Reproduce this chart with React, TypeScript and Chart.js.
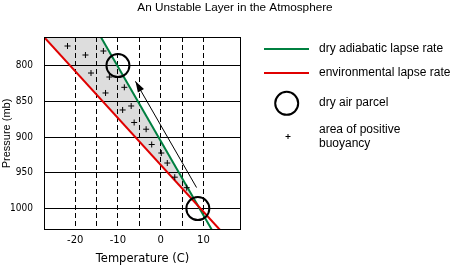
import { useEffect, useRef } from "react";
import { Chart, registerables } from "chart.js";

Chart.register(...registerables);

// ---- data ----
const temperatureGridTicks = [-20, -15, -10, -5, 0, 5, 10];
const temperatureLabelTicks = [-20, -10, 0, 10];
const pressureTicks = [800, 850, 900, 950, 1000];

const dryAdiabaticTemp = [-14, 12];
const dryAdiabaticPressure = [760, 1030];
const environmentalTemp = [-27.3, 13.9];
const environmentalPressure = [760, 1030];

const parcelTemp = [-10, 8.7];
const parcelPressure = [800, 1000];

const buoyancyTemp = [-21.8, -17.6, -13.4, -16.3, -12.0, -8.5, -12.9, -6.9, -8.9, -6.2, -3.4, -2.1, 0.15, 1.55, 3.3, 6.1];
const buoyancyPressure = [772.6, 785.2, 779.6, 810.4, 816, 830.4, 838.3, 856.5, 862.1, 879.6, 889, 910.4, 922.3, 936.3, 956.1, 970.8];

const parcelPathTemp = [8.4, -5.9];
const parcelPathPressure = [970.6, 822];

const TITLE = "An Unstable Layer in the Atmosphere";
const X_TITLE = "Temperature (C)";
const Y_TITLE = "Pressure (mb)";

const GREEN = "#008040";
const RED = "#e00000";
const GRAY = "#dddddd";
const SANS = '"Liberation Sans", Arial, sans-serif';

const toPoints = (xs: number[], ys: number[]) => xs.map((x, i) => ({ x, y: ys[i] }));

// where the dry adiabat meets the environmental profile
function crossing() {
  const dT = dryAdiabaticTemp, dP = dryAdiabaticPressure;
  const eT = environmentalTemp, eP = environmentalPressure;
  const ds = (dT[1] - dT[0]) / (dP[1] - dP[0]);
  const es = (eT[1] - eT[0]) / (eP[1] - eP[0]);
  const p = (eT[0] - es * eP[0] - dT[0] + ds * dP[0]) / (ds - es);
  return { x: dT[0] + ds * (p - dP[0]), y: p };
}

const framePlugin = {
  id: "frame",
  afterDatasetsDraw(chart: any) {
    const { ctx, chartArea: a } = chart;
    ctx.save();
    ctx.strokeStyle = "#000";
    ctx.lineWidth = 1;
    ctx.strokeRect(Math.round(a.left) + 0.5, Math.round(a.top) + 0.5, Math.round(a.right - a.left) - 1, Math.round(a.bottom - a.top) - 1);
    ctx.restore();
  },
};

const arrowPlugin = {
  id: "arrowHead",
  afterDatasetsDraw(chart: any) {
    const idx = chart.data.datasets.findIndex((d: any) => d.label === "parcel path");
    if (idx < 0) return;
    const pts = chart.getDatasetMeta(idx).data;
    if (pts.length < 2) return;
    const a = pts[pts.length - 2];
    const b = pts[pts.length - 1];
    const ang = Math.atan2(b.y - a.y, b.x - a.x);
    const len = 11;
    const hw = 3.5;
    const c = Math.cos(ang);
    const s = Math.sin(ang);
    const { ctx } = chart;
    ctx.save();
    ctx.fillStyle = "#000";
    ctx.beginPath();
    ctx.moveTo(b.x, b.y);
    ctx.lineTo(b.x - len * c + hw * s, b.y - len * s - hw * c);
    ctx.lineTo(b.x - len * c - hw * s, b.y - len * s + hw * c);
    ctx.closePath();
    ctx.fill();
    ctx.restore();
  },
};

const legendPlugin = {
  id: "customLegend",
  afterDraw(chart: any) {
    const { ctx, chartArea } = chart;
    const ds = chart.data.datasets;
    const find = (l: string) => ds.find((d: any) => d.label === l);
    const dry = find("dry adiabatic lapse rate");
    const env = find("environmental lapse rate");
    const x0 = Math.round(chartArea.right) + 23;
    const tx = Math.round(chartArea.right) + 78;
    const top = Math.round(chartArea.top);
    ctx.save();
    ctx.font = `12px ${SANS}`;
    ctx.fillStyle = "#000";
    ctx.textBaseline = "middle";
    ctx.textAlign = "left";

    ctx.fillStyle = dry.borderColor;
    ctx.fillRect(x0, top + 11, 45, 2);
    ctx.fillStyle = "#000";
    ctx.fillText(dry.label, tx, top + 12);

    ctx.fillStyle = env.borderColor;
    ctx.fillRect(x0, top + 35, 45, 2);
    ctx.fillStyle = "#000";
    ctx.fillText(env.label, tx, top + 36);

    ctx.strokeStyle = "#000";
    ctx.lineWidth = 2;
    ctx.beginPath();
    ctx.arc(x0 + 22.7, top + 66.3, 11.5, 0, Math.PI * 2);
    ctx.stroke();
    ctx.fillText("dry air parcel", tx, top + 66);

    ctx.lineWidth = 1;
    const px = x0 + 23.5;
    const py = top + 99.5;
    ctx.beginPath();
    ctx.moveTo(px - 2, py);
    ctx.lineTo(px + 3, py);
    ctx.moveTo(px + 0.5, py - 2.5);
    ctx.lineTo(px + 0.5, py + 2.5);
    ctx.stroke();
    ctx.fillText("area of positive", tx, top + 93);
    ctx.fillText("buoyancy", tx, top + 107);
    ctx.restore();
  },
};

export default function App() {
  const ref = useRef<HTMLCanvasElement | null>(null);

  useEffect(() => {
    if (!ref.current) return;
    const cross = crossing();
    const shade = [
      { x: environmentalTemp[0], y: environmentalPressure[0] },
      { x: dryAdiabaticTemp[0], y: dryAdiabaticPressure[0] },
      cross,
    ];
    const chart = new Chart(ref.current, {
      type: "line",
      data: {
        datasets: [
          {
            label: "dry air parcel",
            data: toPoints(parcelTemp, parcelPressure),
            showLine: false,
            pointStyle: "circle",
            pointRadius: 11.5,
            pointHoverRadius: 11.5,
            pointBorderWidth: 2,
            pointBorderColor: "#000",
            pointBackgroundColor: "rgba(0,0,0,0)",
            borderColor: "#000",
          },
          {
            label: "area of positive buoyancy",
            data: toPoints(buoyancyTemp, buoyancyPressure),
            showLine: false,
            pointStyle: "cross",
            pointRadius: 3,
            pointHoverRadius: 3,
            pointBorderWidth: 1,
            pointBorderColor: "#000",
            borderColor: "#000",
          },
          {
            label: "parcel path",
            data: toPoints(parcelPathTemp, parcelPathPressure),
            borderColor: "#000",
            borderWidth: 1,
            pointRadius: 0,
          },
          {
            label: "environmental lapse rate",
            data: toPoints(environmentalTemp, environmentalPressure),
            borderColor: RED,
            borderWidth: 2,
            pointRadius: 0,
          },
          {
            label: "dry adiabatic lapse rate",
            data: toPoints(dryAdiabaticTemp, dryAdiabaticPressure),
            borderColor: GREEN,
            borderWidth: 2,
            pointRadius: 0,
          },
          {
            label: "buoyancy shading",
            data: shade,
            fill: "shape",
            backgroundColor: GRAY,
            borderColor: "rgba(0,0,0,0)",
            borderWidth: 0,
            pointRadius: 0,
          },
        ],
      },
      options: {
        responsive: false,
        animation: false,
        events: [],
        layout: { padding: { left: 0, top: 0, bottom: 0, right: -18 } },
        plugins: {
          legend: { display: false },
          tooltip: { enabled: false },
          filler: { drawTime: "beforeDraw" },
          title: {
            display: true,
            text: TITLE,
            color: "#000",
            font: { family: SANS, size: 11.75, weight: "normal" },
            padding: { top: 1, bottom: 21.9 },
          },
        } as any,
        scales: {
          x: {
            type: "linear",
            min: -27.3,
            max: 18.8,
            afterBuildTicks: (s: any) => {
              s.ticks = temperatureGridTicks.map((v) => ({ value: v }));
            },
            afterFit: (s: any) => {
              s.height = 39;
            },
            grid: { color: "#000", lineWidth: 1, drawTicks: false },
            border: { display: false, dash: [5, 3] },
            ticks: {
              autoSkip: false,
              maxRotation: 0,
              padding: 4,
              color: "#000",
              font: { family: '"DejaVu Sans", sans-serif', size: 10 },
              callback: (v: any) => (temperatureLabelTicks.includes(Number(v)) ? String(v) : ""),
            },
            title: {
              display: true,
              text: X_TITLE,
              color: "#000",
              font: { family: '"DejaVu Sans", sans-serif', size: 11.5 },
              padding: { top: 0, bottom: 3 },
            },
          },
          y: {
            type: "linear",
            reverse: true,
            min: 760,
            max: 1030,
            afterBuildTicks: (s: any) => {
              s.ticks = pressureTicks.map((v) => ({ value: v }));
            },
            afterFit: (s: any) => {
              s.width = 44;
            },
            grid: { color: "#000", lineWidth: 1, drawTicks: false },
            border: { display: false },
            ticks: {
              padding: 11,
              color: "#000",
              font: { family: '"Liberation Sans Narrow", "DejaVu Sans Condensed", "Liberation Sans", sans-serif', size: 10 },
              callback: (v: any) => String(v),
            },
            title: {
              display: true,
              text: Y_TITLE,
              color: "#000",
              font: { family: SANS, size: 11 },
              padding: { top: 0, bottom: 0 },
            },
          },
          y2: {
            type: "linear",
            position: "right",
            grid: { display: false },
            ticks: { display: false },
            border: { display: false },
            afterFit: (s: any) => {
              s.width = 229;
            },
          },
        } as any,
      },
      plugins: [framePlugin, arrowPlugin, legendPlugin],
    } as any);
    return () => chart.destroy();
  }, []);

  return (
    <div style={{ position: "fixed", left: 0, top: 0, width: 452, height: 269, background: "#fff" }}>
      <canvas ref={ref} width={452} height={269} style={{ display: "block" }} />
    </div>
  );
}
